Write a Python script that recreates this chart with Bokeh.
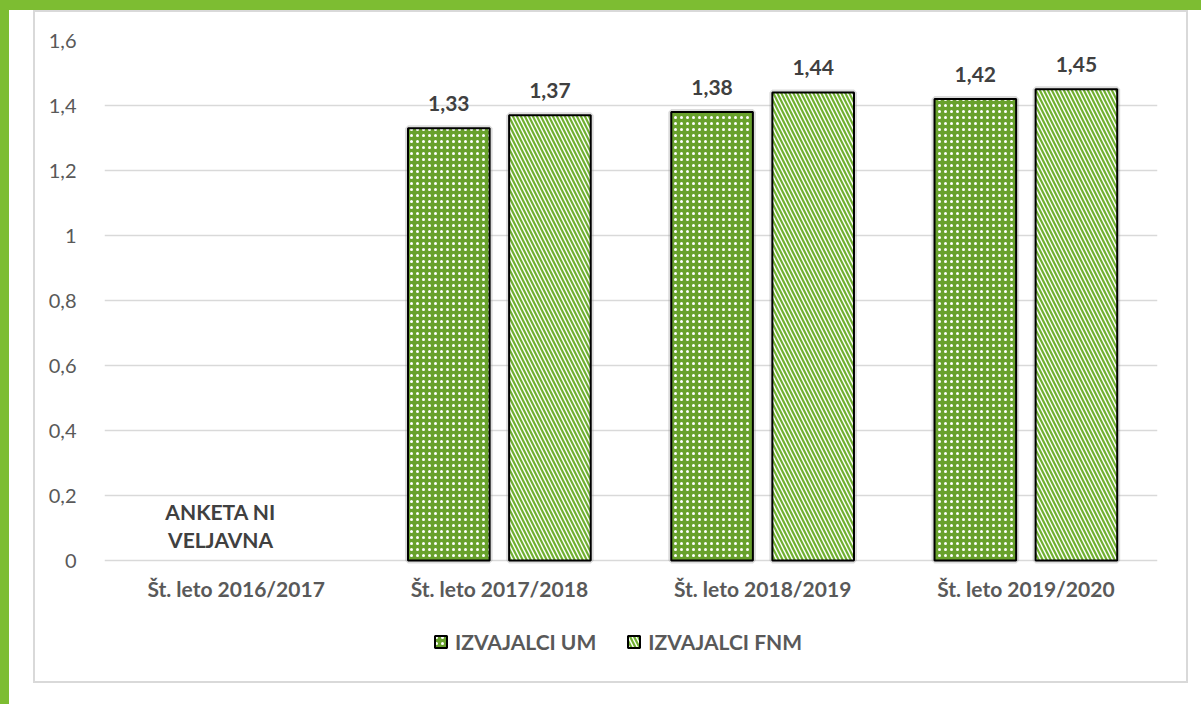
from bokeh.plotting import figure
from bokeh.models import (ColumnDataSource, FactorRange, Range1d, FixedTicker, LabelSet,
                          Legend, LegendItem)
from bokeh.transform import dodge
from bokeh.core.properties import value
from bokeh.embed import file_html
from bokeh.resources import INLINE

categories = ["Št. leto 2016/2017", "Št. leto 2017/2018", "Št. leto 2018/2019", "Št. leto 2019/2020"]
um_values = [float("nan"), 1.33, 1.38, 1.42]
fnm_values = [float("nan"), 1.37, 1.44, 1.45]
series_names = ["IZVAJALCI UM", "IZVAJALCI FNM"]
y_ticks = [0, 0.2, 0.4, 0.6, 0.8, 1.0, 1.2, 1.4, 1.6]
note_text = "ANKETA NI\nVELJAVNA"


def fmt(v):
    s = f"{v:.2f}".rstrip("0").rstrip(".") if v != int(v) else str(int(v))
    return s.replace(".", ",")


def lbl(v):
    return "" if v != v else f"{v:.2f}".replace(".", ",")


FONT = "Lato"
GREEN_DARK = "#68a12c"
GREEN_STRIPE = "#70b030"
GREEN_FRAME = "#7dbd32"
GRAY = "#d9d9d9"

src = ColumnDataSource(dict(
    x=categories,
    um=um_values,
    fnm=fnm_values,
    um_lbl=[lbl(v) for v in um_values],
    fnm_lbl=[lbl(v) for v in fnm_values],
))

W, H = 1201, 704
# the frame extends below zero to hold the category labels and the legend
p = figure(width=W, height=H, frame_width=1053, frame_height=640,
           output_backend="svg", toolbar_location=None,
           x_range=FactorRange(*categories, range_padding=0), y_range=Range1d(-0.3692, 1.6),
           min_border_left=104, min_border_right=44, min_border_top=40, min_border_bottom=24)
p.outline_line_color = None
p.background_fill_color = None
p.border_fill_color = None


def bar(x, y, w, h, c):
    return f"linear-gradient({c},{c}) {x}px {y}px / {w}px {h}px no-repeat"


# outer decorations drawn as CSS background of the figure host (canvas is transparent)
p.styles = {"background": ", ".join([
    bar(0, 0, W, 10, GREEN_FRAME),
    bar(0, 0, 9, H, GREEN_FRAME),
    bar(33, 10, 1155, 2, GRAY),
    bar(33, 681, 1155, 2, GRAY),
    bar(33, 10, 2, 673, GRAY),
    bar(1186, 10, 2, 673, GRAY),
]) + ", white"}

# soft shadow around bars
for col, off in (("um", -0.192), ("fnm", 0.192)):
    p.vbar(x=dodge("x", off, range=p.x_range), top=col, width=0.31, source=src,
           fill_color=None, line_color="#9a9a9a", line_alpha=0.35, line_width=6)

r_um = p.vbar(x=dodge("x", -0.192, range=p.x_range), top="um", width=0.31, source=src,
              fill_color=GREEN_DARK, line_color="black", line_width=2,
              hatch_pattern="dot", hatch_color="white", hatch_scale=6, hatch_weight=2)
r_fnm = p.vbar(x=dodge("x", 0.192, range=p.x_range), top="fnm", width=0.31, source=src,
               fill_color="white", line_color="black", line_width=2,
               hatch_pattern="left_diagonal_line", hatch_color=GREEN_STRIPE,
               hatch_scale=8, hatch_weight=2.2)

for col, lb, off in (("um", "um_lbl", -0.192), ("fnm", "fnm_lbl", 0.192)):
    p.add_layout(LabelSet(x=dodge("x", off, range=p.x_range), y=col, text=lb, source=src,
                          y_offset=25, text_align="center", text_baseline="middle",
                          text_font=value(FONT), text_font_style="bold",
                          text_font_size="21px", text_color="#404040"))

# category labels under the zero line
cat_src = ColumnDataSource(dict(x=categories, y=[0] * len(categories), t=categories))
p.add_layout(LabelSet(x="x", y="y", text="t", source=cat_src, y_offset=-28,
                      text_align="center", text_baseline="middle",
                      text_font=value(FONT), text_font_style="bold",
                      text_font_size="21px", text_color="#595959"))

note_src = ColumnDataSource(dict(x=[categories[0]], y=[0.108], t=[note_text]))
p.text(x=dodge("x", -0.059, range=p.x_range), y="y", text="t", source=note_src,
       text_align="center", text_baseline="middle", text_font=value(FONT),
       text_font_style="bold", text_font_size="21px", text_color="#404040",
       text_line_height=1.15)

# axes
p.xaxis.visible = False
p.yaxis.ticker = FixedTicker(ticks=y_ticks)
p.yaxis.major_label_overrides = {t: fmt(t) for t in y_ticks}
p.yaxis.axis_line_color = None
p.yaxis.major_tick_line_color = None
p.yaxis.minor_tick_line_color = None
p.yaxis.major_label_standoff = 22
p.yaxis.major_label_text_font = FONT
p.yaxis.major_label_text_font_size = "20px"
p.yaxis.major_label_text_color = "#595959"

p.xgrid.grid_line_color = None
p.ygrid.grid_line_color = GRAY
p.ygrid.grid_line_width = 1.5

legend = Legend(items=[LegendItem(label=series_names[0], renderers=[r_um]),
                       LegendItem(label=series_names[1], renderers=[r_fnm])],
                orientation="horizontal", location=(329, 26),
                label_text_font=FONT, label_text_font_style="bold",
                label_text_font_size="21px", label_text_color="#595959",
                glyph_width=15, glyph_height=15, spacing=30, label_standoff=7,
                border_line_color=None, background_fill_alpha=0, padding=0, margin=0)
p.add_layout(legend, "center")

open("out.html", "w").write(file_html(p, INLINE))
